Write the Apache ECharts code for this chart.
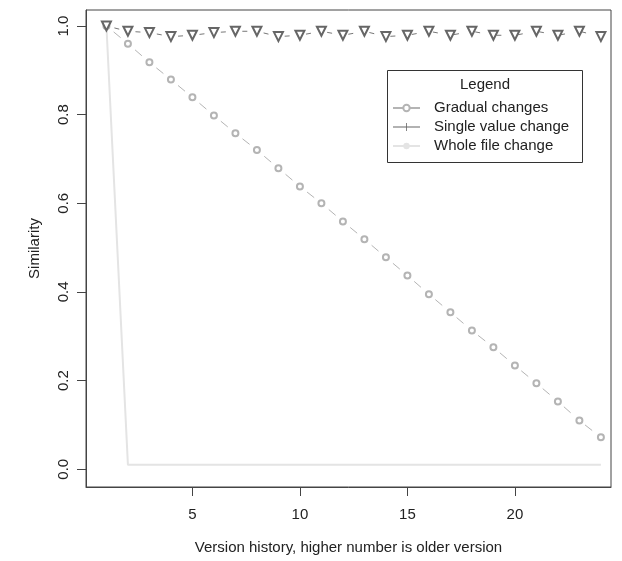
<!DOCTYPE html>
<html>
<head>
<meta charset="utf-8">
<script src="https://cdn.jsdelivr.net/npm/echarts@6/dist/echarts.min.js"></script>
<style>
html,body{margin:0;padding:0;background:#fff;}
#c{width:622px;height:561px;}
</style>
</head>
<body>
<div id="c"></div>
<script>
// ---- data ----
var versions = [1,2,3,4,5,6,7,8,9,10,11,12,13,14,15,16,17,18,19,20,21,22,23,24];
var gradual = [1.0,0.96,0.918,0.879,0.839,0.798,0.758,0.72,0.679,0.638,0.6,0.559,0.519,0.478,0.437,0.395,0.354,0.313,0.275,0.234,0.194,0.153,0.11,0.072];
var singleValue = [1.0,0.988,0.985,0.976,0.979,0.985,0.988,0.988,0.976,0.979,0.988,0.979,0.988,0.976,0.979,0.988,0.979,0.988,0.979,0.979,0.988,0.979,0.988,0.976];
var wholeFile = [1.0,0.01,0.01,0.01,0.01,0.01,0.01,0.01,0.01,0.01,0.01,0.01,0.01,0.01,0.01,0.01,0.01,0.01,0.01,0.01,0.01,0.01,0.01,0.01];
var xTicks = [5,10,15,20];
var yTicks = [0,0.2,0.4,0.6,0.8,1.0];
var seriesNames = ['Gradual changes','Single value change','Whole file change'];

function pairs(ys){ return versions.map(function(x,i){ return [x, ys[i]]; }); }

var FONT = '"Liberation Sans", Arial, Helvetica, sans-serif';
var FS = 15;
var X_MIN = 0.05, X_MAX = 24.47, Y_MIN = -0.04, Y_MAX = 1.036;
var chart = echarts.init(document.getElementById('c'));
chart.setOption({
  backgroundColor:'#ffffff',
  animation:false,
  grid:{left:86,right:11,top:10,bottom:74,show:true,borderColor:'#444',borderWidth:1,backgroundColor:'transparent'},
  xAxis:{
    type:'value', min:X_MIN, max:X_MAX, position:'bottom',
    name:'Version history, higher number is older version',
    nameLocation:'middle', nameGap:53,
    nameTextStyle:{fontFamily:FONT,fontSize:FS,color:'#222'},
    axisLine:{show:true,onZero:false,lineStyle:{color:'#444'}},
    splitLine:{show:false},
    axisTick:{show:true,length:8,customValues:xTicks,lineStyle:{color:'#444',width:1}},
    axisLabel:{show:true,customValues:xTicks,fontFamily:FONT,fontSize:FS,color:'#222',margin:20,
      formatter:function(v){return String(v);}}
  },
  yAxis:{
    type:'value', min:Y_MIN, max:Y_MAX,
    name:'Similarity', nameLocation:'middle', nameGap:44,
    nameTextStyle:{fontFamily:FONT,fontSize:FS,color:'#222'},
    axisLine:{show:true,onZero:false,lineStyle:{color:'#444'}},
    splitLine:{show:false},
    axisTick:{show:true,length:9,customValues:yTicks,lineStyle:{color:'#444',width:1}},
    axisLabel:{customValues:yTicks,rotate:90,fontFamily:FONT,fontSize:FS,color:'#222',margin:15,
      formatter:function(v){return v.toFixed(1);}}
  },
  legend:{
    orient:'vertical', left:392, top:100, padding:0, itemGap:3, itemWidth:27, itemHeight:8,
    textStyle:{fontFamily:FONT,fontSize:FS,lineHeight:16,color:'#222',padding:[0,0,0,9]},
    data:[
      {name:seriesNames[0]},
      {name:seriesNames[1], icon:'path://M0,3.6h27v0.8h-27zM13.1,0h0.8v8h-0.8z', itemStyle:{borderWidth:0}},
      {name:seriesNames[2]}
    ],
    lineStyle:{type:'solid'}
  },
  graphic:[
    {type:'rect', shape:{x:387.5,y:70.5,width:195,height:92}, style:{fill:'transparent',stroke:'#333',lineWidth:1}, z:10},
    {type:'text', x:485, y:85, style:{text:'Legend', fill:'#222', font:FS+'px '+FONT, align:'center', verticalAlign:'middle'}, z:10}
  ],
  series:[
    {
      // x-axis tick marks, positioned through the axis scale
      name:'xticks', type:'custom',
      data:xTicks.map(function(v){return [v, Y_MIN];}),
      encode:{x:0, y:1}, clip:false, silent:true, z:100,
      renderItem:function(params, api){
        var p = api.coord([api.value(0), api.value(1)]);
        var x = Math.round(p[0]) + 0.5;
        return {type:'line', z2:100,
                shape:{x1:x, y1:p[1], x2:x, y2:p[1] + 9},
                style:{stroke:'#444', lineWidth:1}};
      }
    },
    {
      name:seriesNames[2], type:'line', data:pairs(wholeFile),
      symbol:'none', z:1,
      lineStyle:{color:'#e4e4e4', width:2},
      itemStyle:{color:'#e4e4e4'}
    },
    {
      name:seriesNames[0], type:'line', data:pairs(gradual),
      symbol:'emptyCircle', symbolSize:6, z:2,
      lineStyle:{color:'#b4b4b4', width:1, type:[9,18.9], dashOffset:18.5},
      itemStyle:{color:'#b4b4b4', borderColor:'#acacac', borderWidth:1}
    },
    {
      name:seriesNames[1], type:'line', data:pairs(singleValue),
      symbol:'emptyTriangle', symbolRotate:180, symbolSize:9, z:3,
      lineStyle:{color:'#777', width:1, type:[5,16.5], dashOffset:13.3},
      itemStyle:{color:'#666', borderColor:'#666', borderWidth:1}
    }
  ]
});
</script>
</body>
</html>
